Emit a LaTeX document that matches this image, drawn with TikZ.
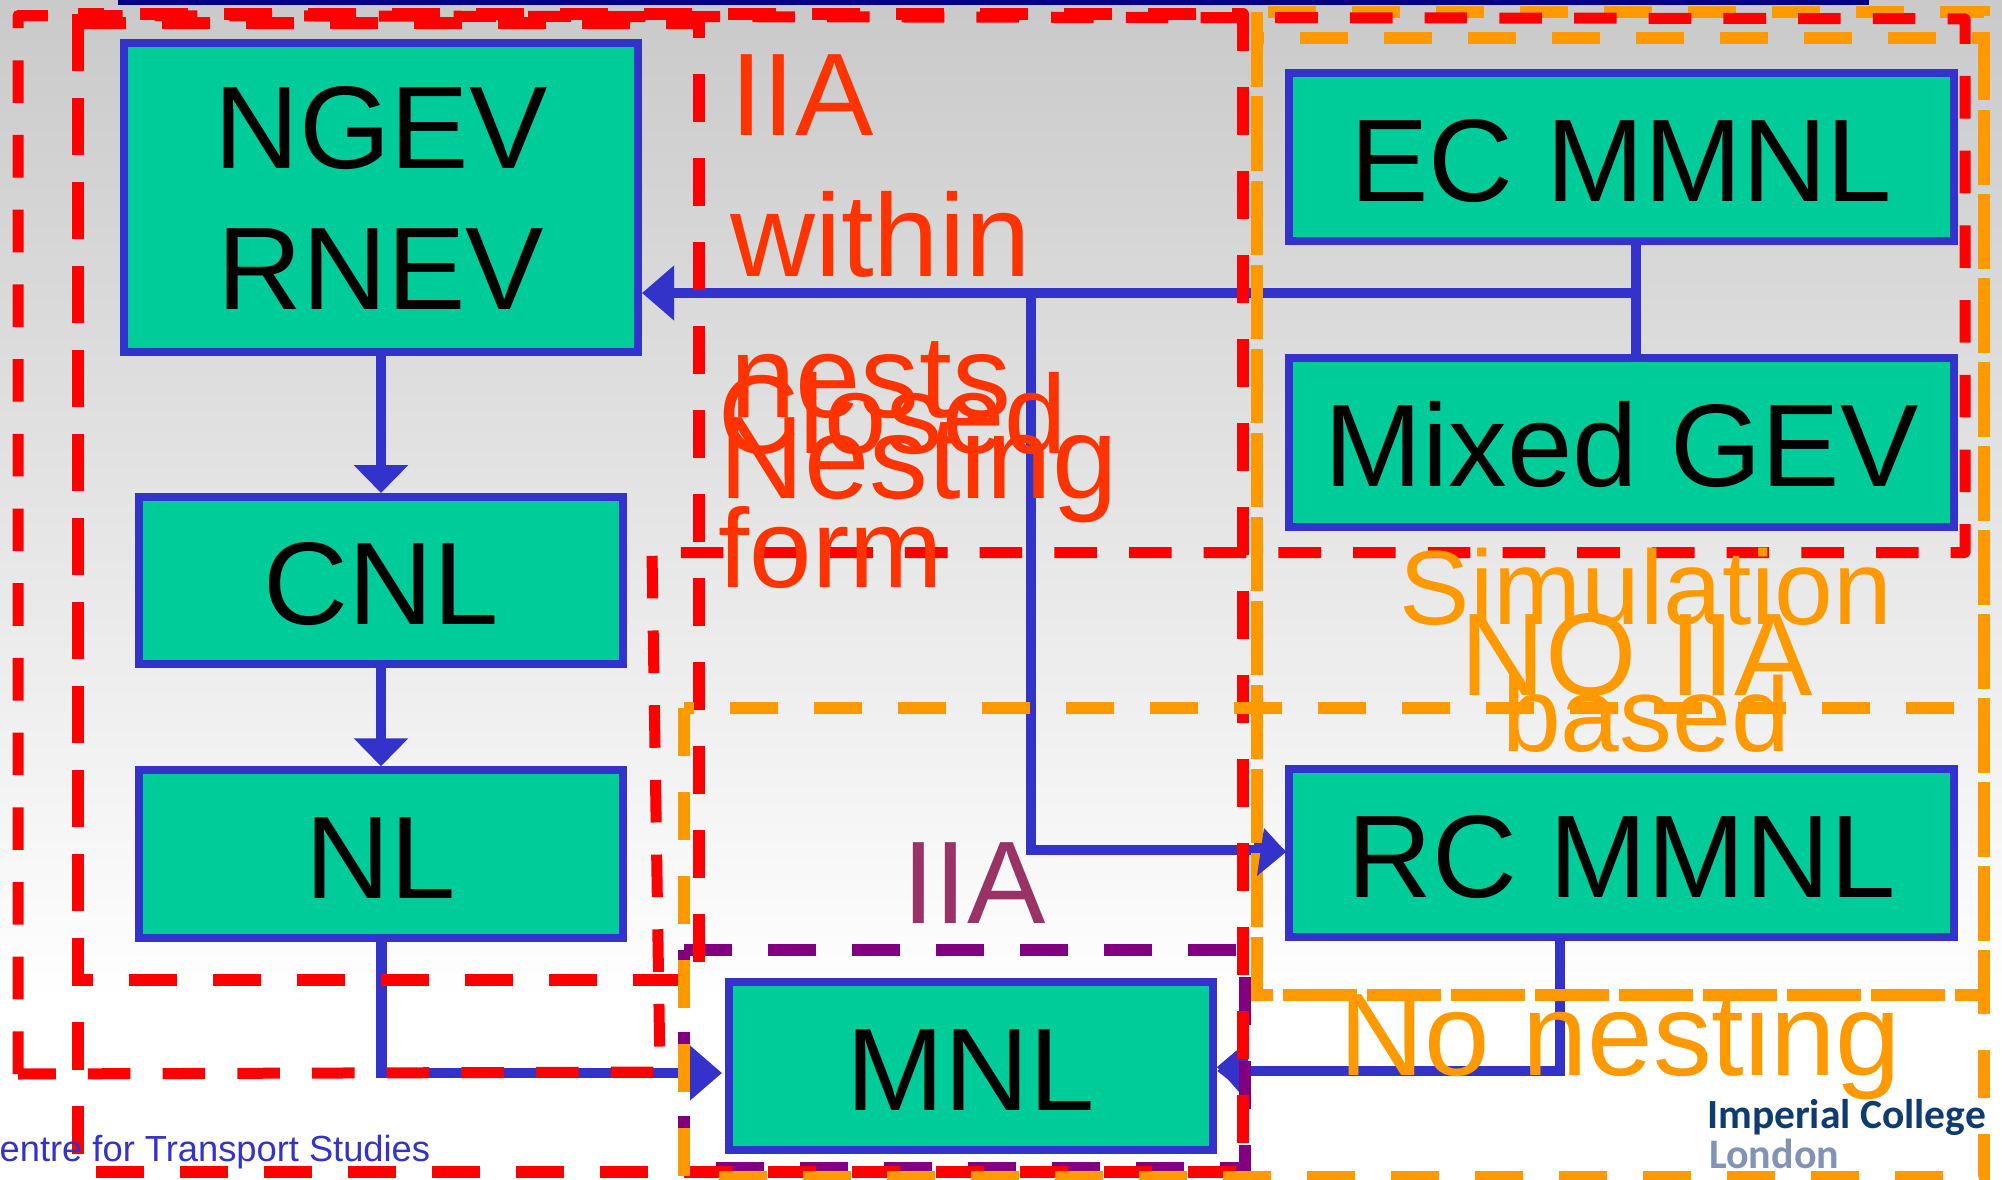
\documentclass[tikz,border=0pt]{standalone}
\usepackage{fontspec}
\setmainfont{Liberation Sans}
\newfontfamily\logofont{Carlito}
\usetikzlibrary{arrows.meta}
\definecolor{linkblue}{HTML}{3333CC}
\definecolor{boxgreen}{HTML}{00CC99}
\definecolor{hotred}{HTML}{FF0000}
\definecolor{amber}{HTML}{FF9900}
\definecolor{plum}{HTML}{800080}
\definecolor{redtext}{HTML}{FF3300}
\definecolor{plumtext}{HTML}{993366}
\definecolor{navybar}{HTML}{000080}
\definecolor{logoblue}{HTML}{0F3C70}
\definecolor{logogrey}{HTML}{8194B5}
\tikzset{
  modelbox/.style={draw=linkblue,line width=8pt,fill=boxgreen,inner sep=0pt,text=black,
    font=\fontsize{117.5}{141}\selectfont,align=center},
  onerow/.style={modelbox,text height=88pt,text depth=0pt},
  conn/.style={draw=linkblue,line width=10.5pt},
  tipV/.style={-{Triangle[length=28pt,width=53pt]}},
  tipH/.style={-{Triangle[length=31pt,width=46pt]}},
  zoneR/.style={draw=hotred,line width=11pt,line join=round,dash pattern=on 42.6pt off 32.1pt},
  zoneS/.style={draw=hotred,line width=12pt,line join=round,dash pattern=on 48pt off 36pt},
  zoneO/.style={draw=amber,line width=12pt,dash pattern=on 48pt off 36pt},
  zoneP/.style={draw=plum,line width=12pt,dash pattern=on 48pt off 36pt},
  lbl/.style={inner sep=0pt,font=\fontsize{117.5}{141}\selectfont},
}
\begin{document}
\begin{tikzpicture}[x=1pt,y=-1pt]
\useasboundingbox (0,0) rectangle (2002,1180);
\clip (0,0) rectangle (2002,1180);
% background
\fill[white] (0,0) rectangle (2002,1180);
\shade[top color=black!21,bottom color=white] (0,0) rectangle (2002,1000);
\fill[navybar] (118,0) rectangle (1869,5);
% model boxes
\node[modelbox,minimum width=514pt,minimum height=309pt] (ngev) at (381,197.5) {NGEV\\RNEV};
\node[onerow,minimum width=484pt,minimum height=167pt] (cnl) at (381,580.5) {CNL};
\node[onerow,minimum width=484pt,minimum height=167.5pt] (nl) at (381,854) {NL};
\node[onerow,minimum width=484pt,minimum height=168pt] (mnl) at (971,1066) {MNL};
\node[onerow,minimum width=665pt,minimum height=168pt] (ecm) at (1621.5,157) {EC MMNL};
\node[onerow,minimum width=665pt,minimum height=169pt] (mix) at (1621.5,442.5) {Mixed GEV};
\node[onerow,minimum width=665pt,minimum height=168pt] (rcm) at (1621.5,853) {RC MMNL};
% connector way-points
\coordinate (trunk) at (1635.5,293);
\coordinate (drop) at (1031,293);
\coordinate (rcin) at (1031,850);
\coordinate (nlcorner) at (381.5,1073);
\coordinate (rccorner) at (1560,1071);
% connectors
\draw[conn,line width=10pt] (ecm.south -| trunk) -- (mix.north -| trunk);
\draw[conn,-{Triangle[length=32pt,width=53pt]}] (trunk) -- (ngev.east |- trunk);
\draw[conn,line cap=rect] (drop) -- (rcin);
\draw[conn,tipH] (rcin) -- (rcm.west |- rcin);
\draw[conn,tipV] (ngev.south) -- (cnl.north);
\draw[conn,tipV] (cnl.south) -- (nl.north);
\draw[conn,-{Triangle[length=32pt,width=53pt]}] (nl.south -| nlcorner) -- (nlcorner) -- ([xshift=-3pt]mnl.west |- nlcorner);
\draw[conn,tipH] (rcm.south -| rccorner) -- (rccorner) -- (mnl.east |- rccorner);
\fill[linkblue] (1217,1067) -- (1236,1051) -- (1247,1045) -- (1247,1094) -- (1239,1092) -- cycle;
% dashed zones
\draw[zoneP] (684,950) -- (1245,950) -- (1245,1168) -- (684,1168) -- cycle;
\draw[zoneO] (1257,12.5) -- (1257,995) -- (1984,995) -- (1984,12.5) -- cycle;
\draw[zoneO,dash phase=41pt] (1257,38) -- (1984,38) -- (1984,995) -- (1257,995) -- cycle;
\fill[linkblue] (1264,828) -- (1286,852) -- (1257,876) -- cycle;
\draw[zoneS] (78,14) -- (78,1172) -- (1243,1172) -- (1243,14) -- cycle;
\draw[zoneS] (78,23) -- (699,23) -- (699,980) -- (78,980) -- cycle;
\draw[zoneR] (18,1074) -- (18,15.5) -- (1965,18.8) -- (1965,552.5) -- (652,552.5) -- (660,1072) -- (18,1074);
\draw[zoneO] (684,708) -- (684,1177) -- (1984,1177) -- (1984,708) -- cycle;
% zone labels
\node[lbl,text=redtext,anchor=north west,align=left] (iiawithin) at (730,54) {IIA\\within\\nests};
\node[lbl,text=redtext,anchor=base west] (nesting) at (719,498) {Nesting};
\node[lbl,text=redtext,anchor=north west,align=left,font=\fontsize{112}{134.5}\selectfont] (closed) at (718.5,372) {Closed\\form};
\node[lbl,text=amber,anchor=north,align=center,font=\fontsize{105.5}{127}\selectfont] (simul) at (1646,548) {Simulation\\based};
\node[lbl,text=amber,anchor=base] (noiia) at (1637,695.5) {NO IIA};
\node[lbl,text=amber,anchor=base] (nonest) at (1620.5,1075) {No nesting};
\node[lbl,text=plumtext,anchor=base west] (iiaplain) at (902,923) {IIA};
\node[inner sep=0pt,anchor=base west,text=linkblue,font=\fontsize{36.3}{43}\selectfont] (cts) at (-0.5,1161.5) {entre for Transport Studies};
\node[inner sep=0pt,anchor=base west,text=logoblue,font=\logofont\bfseries\fontsize{41.5}{50}\selectfont] (imp) at (1707,1128) {Imperial College};
\node[inner sep=0pt,anchor=base west,text=logogrey,font=\logofont\bfseries\fontsize{42}{50}\selectfont] (lon) at (1709,1168) {London};
\end{tikzpicture}
\end{document}
